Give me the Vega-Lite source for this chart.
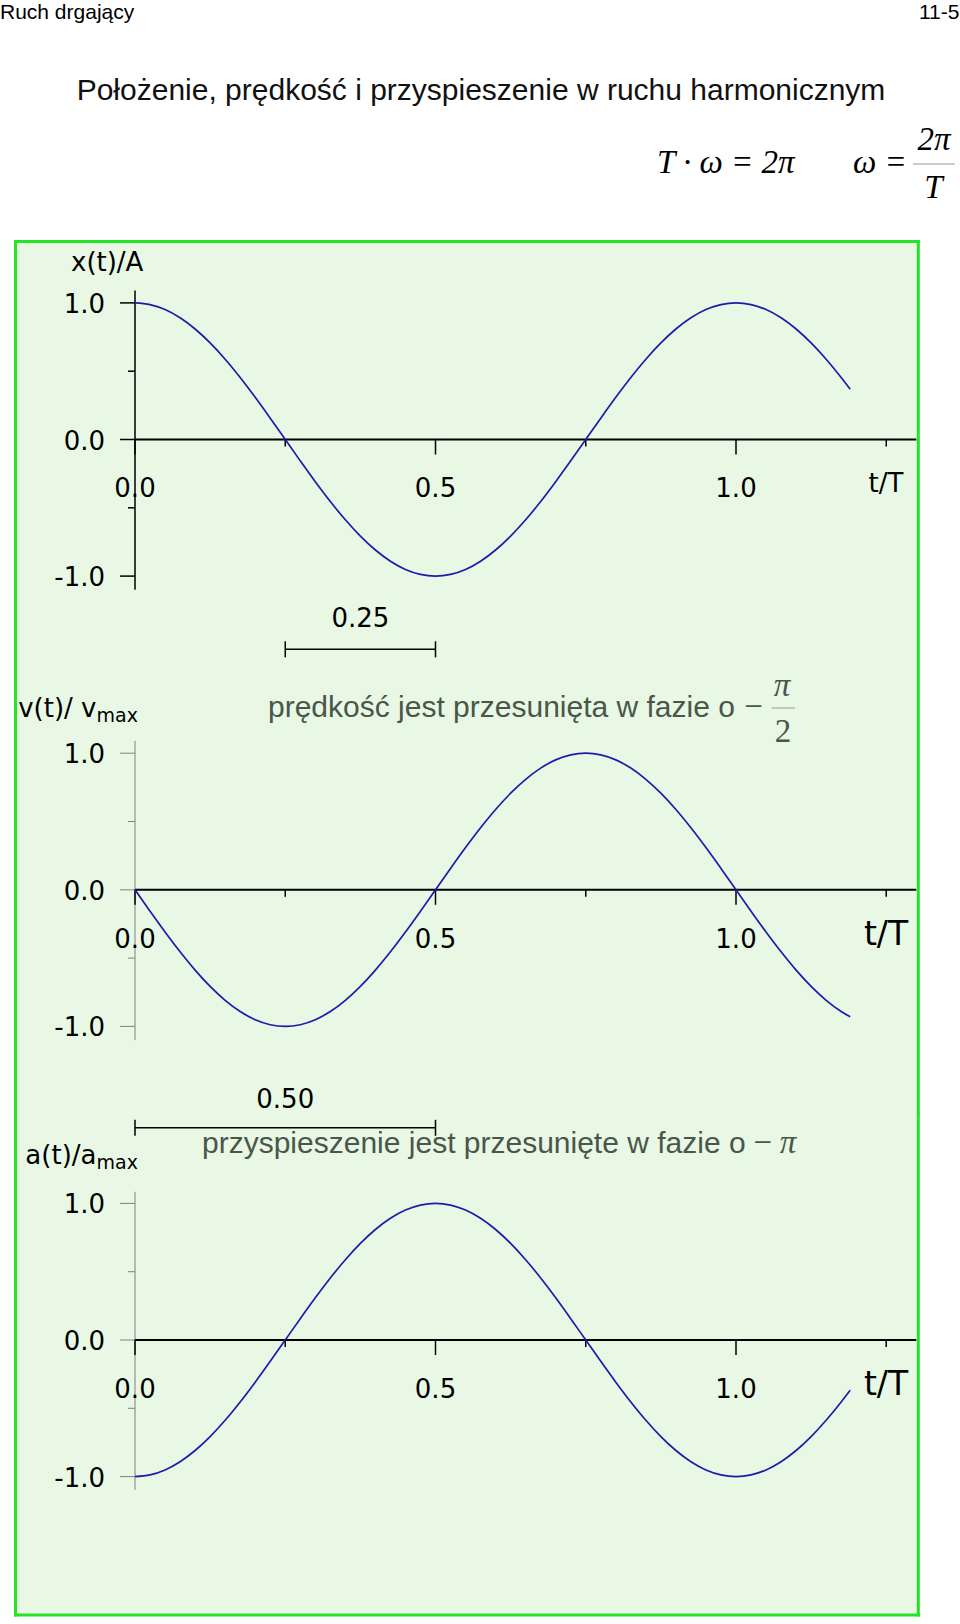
{
"$schema": "https://vega.github.io/schema/vega-lite/v6.json",
"background": "white",
"padding": 0,
"spacing": 0,
"bounds": "flush",
"config": {"view": {"stroke": null, "fill": "white"}},
"resolve": {"scale": {"x": "independent", "y": "independent"}},
"datasets": {
"one": [{}],
"ymaj": [{"v": -1}, {"v": 0}, {"v": 1}],
"ymin": [{"v": -0.5}, {"v": 0.5}],
"xmaj": [{"t": 0}, {"t": 0.5}, {"t": 1}],
"xmin": [{"t": 0.25}, {"t": 0.75}, {"t": 1.25}],
"ylab": [{"v": 1, "label": "1.0"}, {"v": 0, "label": "0.0"}, {"v": -1, "label": "-1.0"}],
"xlab": [{"t": 0, "label": "0.0"}, {"t": 0.5, "label": "0.5"}, {"t": 1, "label": "1.0"}],
"br1": [{"t": 0.25}, {"t": 0.5}],
"br2": [{"t": 0}, {"t": 0.5}],
"curve": [
{"t":0,"x":1,"v":0,"a":-1},
{"t":0.025,"x":0.9877,"v":-0.1564,"a":-0.9877},
{"t":0.05,"x":0.9511,"v":-0.309,"a":-0.9511},
{"t":0.075,"x":0.891,"v":-0.454,"a":-0.891},
{"t":0.1,"x":0.809,"v":-0.5878,"a":-0.809},
{"t":0.125,"x":0.7071,"v":-0.7071,"a":-0.7071},
{"t":0.15,"x":0.5878,"v":-0.809,"a":-0.5878},
{"t":0.175,"x":0.454,"v":-0.891,"a":-0.454},
{"t":0.2,"x":0.309,"v":-0.9511,"a":-0.309},
{"t":0.225,"x":0.1564,"v":-0.9877,"a":-0.1564},
{"t":0.25,"x":0,"v":-1,"a":0},
{"t":0.275,"x":-0.1564,"v":-0.9877,"a":0.1564},
{"t":0.3,"x":-0.309,"v":-0.9511,"a":0.309},
{"t":0.325,"x":-0.454,"v":-0.891,"a":0.454},
{"t":0.35,"x":-0.5878,"v":-0.809,"a":0.5878},
{"t":0.375,"x":-0.7071,"v":-0.7071,"a":0.7071},
{"t":0.4,"x":-0.809,"v":-0.5878,"a":0.809},
{"t":0.425,"x":-0.891,"v":-0.454,"a":0.891},
{"t":0.45,"x":-0.9511,"v":-0.309,"a":0.9511},
{"t":0.475,"x":-0.9877,"v":-0.1564,"a":0.9877},
{"t":0.5,"x":-1,"v":0,"a":1},
{"t":0.525,"x":-0.9877,"v":0.1564,"a":0.9877},
{"t":0.55,"x":-0.9511,"v":0.309,"a":0.9511},
{"t":0.575,"x":-0.891,"v":0.454,"a":0.891},
{"t":0.6,"x":-0.809,"v":0.5878,"a":0.809},
{"t":0.625,"x":-0.7071,"v":0.7071,"a":0.7071},
{"t":0.65,"x":-0.5878,"v":0.809,"a":0.5878},
{"t":0.675,"x":-0.454,"v":0.891,"a":0.454},
{"t":0.7,"x":-0.309,"v":0.9511,"a":0.309},
{"t":0.725,"x":-0.1564,"v":0.9877,"a":0.1564},
{"t":0.75,"x":0,"v":1,"a":0},
{"t":0.775,"x":0.1564,"v":0.9877,"a":-0.1564},
{"t":0.8,"x":0.309,"v":0.9511,"a":-0.309},
{"t":0.825,"x":0.454,"v":0.891,"a":-0.454},
{"t":0.85,"x":0.5878,"v":0.809,"a":-0.5878},
{"t":0.875,"x":0.7071,"v":0.7071,"a":-0.7071},
{"t":0.9,"x":0.809,"v":0.5878,"a":-0.809},
{"t":0.925,"x":0.891,"v":0.454,"a":-0.891},
{"t":0.95,"x":0.9511,"v":0.309,"a":-0.9511},
{"t":0.975,"x":0.9877,"v":0.1564,"a":-0.9877},
{"t":1,"x":1,"v":0,"a":-1},
{"t":1.025,"x":0.9877,"v":-0.1564,"a":-0.9877},
{"t":1.05,"x":0.9511,"v":-0.309,"a":-0.9511},
{"t":1.075,"x":0.891,"v":-0.454,"a":-0.891},
{"t":1.1,"x":0.809,"v":-0.5878,"a":-0.809},
{"t":1.125,"x":0.7071,"v":-0.7071,"a":-0.7071},
{"t":1.15,"x":0.5878,"v":-0.809,"a":-0.5878},
{"t":1.175,"x":0.454,"v":-0.891,"a":-0.454},
{"t":1.19,"x":0.3681,"v":-0.9298,"a":-0.3681}
]
},
"vconcat": [
{
"width": 960, "height": 664,
"layer": [
{"data": {"name": "one"}, "mark": {"type": "rect", "fill": "#e8f8e5"},
 "encoding": {"x": {"datum": -0.19884, "type": "quantitative", "scale": {"domain": [-0.22463, 1.37271], "nice": false, "zero": false}, "axis": null}, "x2": {"datum": 1.30333},
  "y": {"datum": 1.4495, "type": "quantitative", "scale": {"domain": [-1.64348, 3.21742], "nice": false, "zero": false}, "axis": null}, "y2": {"datum": -1.64348}}},
{"data": {"name": "one"}, "mark": {"type": "rule", "color": "#24e524", "strokeWidth": 3, "strokeCap": "square"},
 "encoding": {"x": {"datum": -0.19884, "type": "quantitative", "scale": {"domain": [-0.22463, 1.37271], "nice": false, "zero": false}, "axis": null}, "x2": {"datum": 1.30333},
  "y": {"datum": 1.4495, "type": "quantitative", "scale": {"domain": [-1.64348, 3.21742], "nice": false, "zero": false}, "axis": null}}},
{"data": {"name": "one"}, "mark": {"type": "rule", "color": "#24e524", "strokeWidth": 3, "strokeCap": "square"},
 "encoding": {"x": {"datum": -0.19884, "type": "quantitative", "scale": {"domain": [-0.22463, 1.37271], "nice": false, "zero": false}, "axis": null},
  "y": {"datum": 1.4495, "type": "quantitative", "scale": {"domain": [-1.64348, 3.21742], "nice": false, "zero": false}, "axis": null}, "y2": {"datum": -1.64348}}},
{"data": {"name": "one"}, "mark": {"type": "rule", "color": "#24e524", "strokeWidth": 3, "strokeCap": "square"},
 "encoding": {"x": {"datum": 1.30333, "type": "quantitative", "scale": {"domain": [-0.22463, 1.37271], "nice": false, "zero": false}, "axis": null},
  "y": {"datum": 1.4495, "type": "quantitative", "scale": {"domain": [-1.64348, 3.21742], "nice": false, "zero": false}, "axis": null}, "y2": {"datum": -1.64348}}},
{"data": {"name": "one"}, "mark": {"type": "rule", "color": "black", "strokeWidth": 1.5},
 "encoding": {"x": {"datum": 0, "type": "quantitative", "scale": {"domain": [-0.22463, 1.37271], "nice": false, "zero": false}, "axis": null},
  "y": {"datum": 1.09, "type": "quantitative", "scale": {"domain": [-1.64348, 3.21742], "nice": false, "zero": false}, "axis": null}, "y2": {"datum": -1.1}}},
{"data": {"name": "one"}, "mark": {"type": "rule", "color": "black", "strokeWidth": 2},
 "encoding": {"x": {"datum": 0, "type": "quantitative", "scale": {"domain": [-0.22463, 1.37271], "nice": false, "zero": false}, "axis": null}, "x2": {"datum": 1.3},
  "y": {"datum": 0, "type": "quantitative", "scale": {"domain": [-1.64348, 3.21742], "nice": false, "zero": false}, "axis": null}}},
{"data": {"name": "ymaj"}, "mark": {"type": "rule", "color": "black", "strokeWidth": 1.5},
 "encoding": {"x": {"datum": -0.02496, "type": "quantitative", "scale": {"domain": [-0.22463, 1.37271], "nice": false, "zero": false}, "axis": null}, "x2": {"datum": 0},
  "y": {"field": "v", "type": "quantitative", "scale": {"domain": [-1.64348, 3.21742], "nice": false, "zero": false}, "axis": null}}},
{"data": {"name": "ymin"}, "mark": {"type": "rule", "color": "black", "strokeWidth": 1.5},
 "encoding": {"x": {"datum": -0.01165, "type": "quantitative", "scale": {"domain": [-0.22463, 1.37271], "nice": false, "zero": false}, "axis": null}, "x2": {"datum": 0},
  "y": {"field": "v", "type": "quantitative", "scale": {"domain": [-1.64348, 3.21742], "nice": false, "zero": false}, "axis": null}}},
{"data": {"name": "xmaj"}, "mark": {"type": "rule", "color": "black", "strokeWidth": 1.5},
 "encoding": {"x": {"field": "t", "type": "quantitative", "scale": {"domain": [-0.22463, 1.37271], "nice": false, "zero": false}, "axis": null},
  "y": {"datum": 0, "type": "quantitative", "scale": {"domain": [-1.64348, 3.21742], "nice": false, "zero": false}, "axis": null}, "y2": {"datum": -0.1098}}},
{"data": {"name": "xmin"}, "mark": {"type": "rule", "color": "black", "strokeWidth": 1.5},
 "encoding": {"x": {"field": "t", "type": "quantitative", "scale": {"domain": [-0.22463, 1.37271], "nice": false, "zero": false}, "axis": null},
  "y": {"datum": 0, "type": "quantitative", "scale": {"domain": [-1.64348, 3.21742], "nice": false, "zero": false}, "axis": null}, "y2": {"datum": -0.0512}}},
{"data": {"name": "curve"}, "mark": {"type": "line", "color": "#1c1cac", "strokeWidth": 1.7, "interpolate": "monotone"},
 "encoding": {"x": {"field": "t", "type": "quantitative", "scale": {"domain": [-0.22463, 1.37271], "nice": false, "zero": false}, "axis": null},
  "y": {"field": "x", "type": "quantitative", "scale": {"domain": [-1.64348, 3.21742], "nice": false, "zero": false}, "axis": null}}},
{"data": {"name": "ylab"}, "mark": {"type": "text", "font": "DejaVu Sans", "fontSize": 26, "align": "right", "baseline": "middle", "dy": 2, "color": "black"},
 "encoding": {"x": {"datum": -0.04992, "type": "quantitative", "scale": {"domain": [-0.22463, 1.37271], "nice": false, "zero": false}, "axis": null},
  "y": {"field": "v", "type": "quantitative", "scale": {"domain": [-1.64348, 3.21742], "nice": false, "zero": false}, "axis": null}, "text": {"field": "label"}}},
{"data": {"name": "xlab"}, "mark": {"type": "text", "font": "DejaVu Sans", "fontSize": 26, "align": "center", "baseline": "middle", "dy": 3, "color": "black"},
 "encoding": {"x": {"field": "t", "type": "quantitative", "scale": {"domain": [-0.22463, 1.37271], "nice": false, "zero": false}, "axis": null},
  "y": {"datum": -0.344, "type": "quantitative", "scale": {"domain": [-1.64348, 3.21742], "nice": false, "zero": false}, "axis": null}, "text": {"field": "label"}}},
{"data": {"name": "one"}, "mark": {"type": "text", "text": "t/T", "font": "DejaVu Sans", "fontSize": 26, "align": "center", "baseline": "middle", "dy": 1, "color": "black"},
 "encoding": {"x": {"datum": 1.2496, "type": "quantitative", "scale": {"domain": [-0.22463, 1.37271], "nice": false, "zero": false}, "axis": null},
  "y": {"datum": -0.316, "type": "quantitative", "scale": {"domain": [-1.64348, 3.21742], "nice": false, "zero": false}, "axis": null}}},
{"data": {"name": "one"}, "mark": {"type": "text", "text": "x(t)/A", "font": "DejaVu Sans", "fontSize": 26, "align": "left", "baseline": "middle", "dy": 1, "color": "black"},
 "encoding": {"x": {"datum": -0.1065, "type": "quantitative", "scale": {"domain": [-0.22463, 1.37271], "nice": false, "zero": false}, "axis": null},
  "y": {"datum": 1.303, "type": "quantitative", "scale": {"domain": [-1.64348, 3.21742], "nice": false, "zero": false}, "axis": null}}},
{"data": {"name": "one"}, "mark": {"type": "text", "text": "0.25", "font": "DejaVu Sans", "fontSize": 26, "align": "center", "baseline": "middle", "dy": 2, "color": "black"},
 "encoding": {"x": {"datum": 0.375, "type": "quantitative", "scale": {"domain": [-0.22463, 1.37271], "nice": false, "zero": false}, "axis": null},
  "y": {"datum": -1.2994, "type": "quantitative", "scale": {"domain": [-1.64348, 3.21742], "nice": false, "zero": false}, "axis": null}}},
{"data": {"name": "one"}, "mark": {"type": "rule", "color": "black", "strokeWidth": 1.5},
 "encoding": {"x": {"datum": 0.25, "type": "quantitative", "scale": {"domain": [-0.22463, 1.37271], "nice": false, "zero": false}, "axis": null}, "x2": {"datum": 0.5},
  "y": {"datum": -1.5359, "type": "quantitative", "scale": {"domain": [-1.64348, 3.21742], "nice": false, "zero": false}, "axis": null}}},
{"data": {"name": "br1"}, "mark": {"type": "rule", "color": "black", "strokeWidth": 1.5},
 "encoding": {"x": {"field": "t", "type": "quantitative", "scale": {"domain": [-0.22463, 1.37271], "nice": false, "zero": false}, "axis": null},
  "y": {"datum": -1.4773, "type": "quantitative", "scale": {"domain": [-1.64348, 3.21742], "nice": false, "zero": false}, "axis": null}, "y2": {"datum": -1.5945}}},
{"data": {"name": "one"}, "mark": {"type": "text", "text": "Ruch drgający", "font": "Liberation Sans", "fontSize": 21, "align": "left", "baseline": "middle", "color": "black"},
 "encoding": {"x": {"datum": -0.22463, "type": "quantitative", "scale": {"domain": [-0.22463, 1.37271], "nice": false, "zero": false}, "axis": null},
  "y": {"datum": 3.125, "type": "quantitative", "scale": {"domain": [-1.64348, 3.21742], "nice": false, "zero": false}, "axis": null}}},
{"data": {"name": "one"}, "mark": {"type": "text", "text": "11-5", "font": "Liberation Sans", "fontSize": 21, "align": "right", "baseline": "middle", "color": "black"},
 "encoding": {"x": {"datum": 1.3718, "type": "quantitative", "scale": {"domain": [-0.22463, 1.37271], "nice": false, "zero": false}, "axis": null},
  "y": {"datum": 3.125, "type": "quantitative", "scale": {"domain": [-1.64348, 3.21742], "nice": false, "zero": false}, "axis": null}}},
{"data": {"name": "one"}, "mark": {"type": "text", "text": "Położenie, prędkość i przyspieszenie w ruchu harmonicznym", "font": "Liberation Sans", "fontSize": 30, "align": "center", "baseline": "middle", "dy": 1, "color": "#111111"},
 "encoding": {"x": {"datum": 0.5757, "type": "quantitative", "scale": {"domain": [-0.22463, 1.37271], "nice": false, "zero": false}, "axis": null},
  "y": {"datum": 2.5586, "type": "quantitative", "scale": {"domain": [-1.64348, 3.21742], "nice": false, "zero": false}, "axis": null}}},
{"data": {"name": "one"}, "mark": {"type": "text", "text": "T · ω = 2π", "font": "Liberation Serif", "fontStyle": "italic", "fontSize": 33, "align": "left", "baseline": "middle", "color": "black"},
 "encoding": {"x": {"datum": 0.8685, "type": "quantitative", "scale": {"domain": [-0.22463, 1.37271], "nice": false, "zero": false}, "axis": null},
  "y": {"datum": 2.022, "type": "quantitative", "scale": {"domain": [-1.64348, 3.21742], "nice": false, "zero": false}, "axis": null}}},
{"data": {"name": "one"}, "mark": {"type": "text", "text": "ω =", "font": "Liberation Serif", "fontStyle": "italic", "fontSize": 33, "align": "left", "baseline": "middle", "color": "black"},
 "encoding": {"x": {"datum": 1.1947, "type": "quantitative", "scale": {"domain": [-0.22463, 1.37271], "nice": false, "zero": false}, "axis": null},
  "y": {"datum": 2.022, "type": "quantitative", "scale": {"domain": [-1.64348, 3.21742], "nice": false, "zero": false}, "axis": null}}},
{"data": {"name": "one"}, "mark": {"type": "text", "text": "2π", "font": "Liberation Serif", "fontStyle": "italic", "fontSize": 33, "align": "center", "baseline": "middle", "color": "black"},
 "encoding": {"x": {"datum": 1.3295, "type": "quantitative", "scale": {"domain": [-0.22463, 1.37271], "nice": false, "zero": false}, "axis": null},
  "y": {"datum": 2.1925, "type": "quantitative", "scale": {"domain": [-1.64348, 3.21742], "nice": false, "zero": false}, "axis": null}}},
{"data": {"name": "one"}, "mark": {"type": "rule", "color": "#999999", "strokeWidth": 1},
 "encoding": {"x": {"datum": 1.2945, "type": "quantitative", "scale": {"domain": [-0.22463, 1.37271], "nice": false, "zero": false}, "axis": null}, "x2": {"datum": 1.3644},
  "y": {"datum": 2.0168, "type": "quantitative", "scale": {"domain": [-1.64348, 3.21742], "nice": false, "zero": false}, "axis": null}}},
{"data": {"name": "one"}, "mark": {"type": "text", "text": "T", "font": "Liberation Serif", "fontStyle": "italic", "fontSize": 33, "align": "center", "baseline": "middle", "color": "black"},
 "encoding": {"x": {"datum": 1.3283, "type": "quantitative", "scale": {"domain": [-0.22463, 1.37271], "nice": false, "zero": false}, "axis": null},
  "y": {"datum": 1.8411, "type": "quantitative", "scale": {"domain": [-1.64348, 3.21742], "nice": false, "zero": false}, "axis": null}}}
]
},
{
"width": 960, "height": 450,
"layer": [
{"data": {"name": "one"}, "mark": {"type": "rect", "fill": "#e8f8e5"},
 "encoding": {"x": {"datum": -0.19884, "type": "quantitative", "scale": {"domain": [-0.22463, 1.37271], "nice": false, "zero": false}, "axis": null}, "x2": {"datum": 1.30333},
  "y": {"datum": 1.653, "type": "quantitative", "scale": {"domain": [-1.64129, 1.653], "nice": false, "zero": false}, "axis": null}, "y2": {"datum": -1.64129}}},
{"data": {"name": "one"}, "mark": {"type": "rule", "color": "#24e524", "strokeWidth": 3},
 "encoding": {"x": {"datum": -0.19884, "type": "quantitative", "scale": {"domain": [-0.22463, 1.37271], "nice": false, "zero": false}, "axis": null},
  "y": {"datum": 1.653, "type": "quantitative", "scale": {"domain": [-1.64129, 1.653], "nice": false, "zero": false}, "axis": null}, "y2": {"datum": -1.64129}}},
{"data": {"name": "one"}, "mark": {"type": "rule", "color": "#24e524", "strokeWidth": 3},
 "encoding": {"x": {"datum": 1.30333, "type": "quantitative", "scale": {"domain": [-0.22463, 1.37271], "nice": false, "zero": false}, "axis": null},
  "y": {"datum": 1.653, "type": "quantitative", "scale": {"domain": [-1.64129, 1.653], "nice": false, "zero": false}, "axis": null}, "y2": {"datum": -1.64129}}},
{"data": {"name": "one"}, "mark": {"type": "rule", "color": "#808080", "strokeWidth": 1},
 "encoding": {"x": {"datum": 0, "type": "quantitative", "scale": {"domain": [-0.22463, 1.37271], "nice": false, "zero": false}, "axis": null},
  "y": {"datum": 1.09, "type": "quantitative", "scale": {"domain": [-1.64129, 1.653], "nice": false, "zero": false}, "axis": null}, "y2": {"datum": -1.1}}},
{"data": {"name": "one"}, "mark": {"type": "rule", "color": "black", "strokeWidth": 2},
 "encoding": {"x": {"datum": 0, "type": "quantitative", "scale": {"domain": [-0.22463, 1.37271], "nice": false, "zero": false}, "axis": null}, "x2": {"datum": 1.3},
  "y": {"datum": 0, "type": "quantitative", "scale": {"domain": [-1.64129, 1.653], "nice": false, "zero": false}, "axis": null}}},
{"data": {"name": "ymaj"}, "mark": {"type": "rule", "color": "#808080", "strokeWidth": 1},
 "encoding": {"x": {"datum": -0.02496, "type": "quantitative", "scale": {"domain": [-0.22463, 1.37271], "nice": false, "zero": false}, "axis": null}, "x2": {"datum": 0},
  "y": {"field": "v", "type": "quantitative", "scale": {"domain": [-1.64129, 1.653], "nice": false, "zero": false}, "axis": null}}},
{"data": {"name": "ymin"}, "mark": {"type": "rule", "color": "#808080", "strokeWidth": 1},
 "encoding": {"x": {"datum": -0.01165, "type": "quantitative", "scale": {"domain": [-0.22463, 1.37271], "nice": false, "zero": false}, "axis": null}, "x2": {"datum": 0},
  "y": {"field": "v", "type": "quantitative", "scale": {"domain": [-1.64129, 1.653], "nice": false, "zero": false}, "axis": null}}},
{"data": {"name": "xmaj"}, "mark": {"type": "rule", "color": "black", "strokeWidth": 1.5},
 "encoding": {"x": {"field": "t", "type": "quantitative", "scale": {"domain": [-0.22463, 1.37271], "nice": false, "zero": false}, "axis": null},
  "y": {"datum": 0, "type": "quantitative", "scale": {"domain": [-1.64129, 1.653], "nice": false, "zero": false}, "axis": null}, "y2": {"datum": -0.1098}}},
{"data": {"name": "xmin"}, "mark": {"type": "rule", "color": "black", "strokeWidth": 1.5},
 "encoding": {"x": {"field": "t", "type": "quantitative", "scale": {"domain": [-0.22463, 1.37271], "nice": false, "zero": false}, "axis": null},
  "y": {"datum": 0, "type": "quantitative", "scale": {"domain": [-1.64129, 1.653], "nice": false, "zero": false}, "axis": null}, "y2": {"datum": -0.0512}}},
{"data": {"name": "curve"}, "mark": {"type": "line", "color": "#1c1cac", "strokeWidth": 1.7, "interpolate": "monotone"},
 "encoding": {"x": {"field": "t", "type": "quantitative", "scale": {"domain": [-0.22463, 1.37271], "nice": false, "zero": false}, "axis": null},
  "y": {"field": "v", "type": "quantitative", "scale": {"domain": [-1.64129, 1.653], "nice": false, "zero": false}, "axis": null}}},
{"data": {"name": "ylab"}, "mark": {"type": "text", "font": "DejaVu Sans", "fontSize": 26, "align": "right", "baseline": "middle", "dy": 2, "color": "black"},
 "encoding": {"x": {"datum": -0.04992, "type": "quantitative", "scale": {"domain": [-0.22463, 1.37271], "nice": false, "zero": false}, "axis": null},
  "y": {"field": "v", "type": "quantitative", "scale": {"domain": [-1.64129, 1.653], "nice": false, "zero": false}, "axis": null}, "text": {"field": "label"}}},
{"data": {"name": "xlab"}, "mark": {"type": "text", "font": "DejaVu Sans", "fontSize": 26, "align": "center", "baseline": "middle", "dy": 3, "color": "black"},
 "encoding": {"x": {"field": "t", "type": "quantitative", "scale": {"domain": [-0.22463, 1.37271], "nice": false, "zero": false}, "axis": null},
  "y": {"datum": -0.344, "type": "quantitative", "scale": {"domain": [-1.64129, 1.653], "nice": false, "zero": false}, "axis": null}, "text": {"field": "label"}}},
{"data": {"name": "one"}, "mark": {"type": "text", "text": "t/T", "font": "DejaVu Sans", "fontSize": 33, "align": "center", "baseline": "middle", "dy": 1, "color": "black"},
 "encoding": {"x": {"datum": 1.2496, "type": "quantitative", "scale": {"domain": [-0.22463, 1.37271], "nice": false, "zero": false}, "axis": null},
  "y": {"datum": -0.32, "type": "quantitative", "scale": {"domain": [-1.64129, 1.653], "nice": false, "zero": false}, "axis": null}}},
{"data": {"name": "one"}, "mark": {"type": "text", "text": "v(t)/ v", "font": "DejaVu Sans", "fontSize": 26, "align": "right", "baseline": "middle", "dy": 1, "color": "black"},
 "encoding": {"x": {"datum": -0.0641, "type": "quantitative", "scale": {"domain": [-0.22463, 1.37271], "nice": false, "zero": false}, "axis": null},
  "y": {"datum": 1.331, "type": "quantitative", "scale": {"domain": [-1.64129, 1.653], "nice": false, "zero": false}, "axis": null}}},
{"data": {"name": "one"}, "mark": {"type": "text", "text": "max", "font": "DejaVu Sans", "fontSize": 19, "align": "left", "baseline": "middle", "dy": 8, "color": "black"},
 "encoding": {"x": {"datum": -0.0641, "type": "quantitative", "scale": {"domain": [-0.22463, 1.37271], "nice": false, "zero": false}, "axis": null},
  "y": {"datum": 1.331, "type": "quantitative", "scale": {"domain": [-1.64129, 1.653], "nice": false, "zero": false}, "axis": null}}},
{"data": {"name": "one"}, "mark": {"type": "text", "text": "prędkość jest przesunięta w fazie o", "font": "Liberation Sans", "fontSize": 30, "align": "left", "baseline": "middle", "dy": 1, "color": "#4a564a"},
 "encoding": {"x": {"datum": 0.2213, "type": "quantitative", "scale": {"domain": [-0.22463, 1.37271], "nice": false, "zero": false}, "axis": null},
  "y": {"datum": 1.3382, "type": "quantitative", "scale": {"domain": [-1.64129, 1.653], "nice": false, "zero": false}, "axis": null}}},
{"data": {"name": "one"}, "mark": {"type": "text", "text": "−", "font": "Liberation Serif", "fontSize": 33, "align": "center", "baseline": "middle", "color": "#4a564a"},
 "encoding": {"x": {"datum": 1.0291, "type": "quantitative", "scale": {"domain": [-0.22463, 1.37271], "nice": false, "zero": false}, "axis": null},
  "y": {"datum": 1.338, "type": "quantitative", "scale": {"domain": [-1.64129, 1.653], "nice": false, "zero": false}, "axis": null}}},
{"data": {"name": "one"}, "mark": {"type": "text", "text": "π", "font": "Liberation Serif", "fontStyle": "italic", "fontSize": 33, "align": "center", "baseline": "middle", "color": "#4a564a"},
 "encoding": {"x": {"datum": 1.0765, "type": "quantitative", "scale": {"domain": [-0.22463, 1.37271], "nice": false, "zero": false}, "axis": null},
  "y": {"datum": 1.4956, "type": "quantitative", "scale": {"domain": [-1.64129, 1.653], "nice": false, "zero": false}, "axis": null}}},
{"data": {"name": "one"}, "mark": {"type": "rule", "color": "#999999", "strokeWidth": 1},
 "encoding": {"x": {"datum": 1.0591, "type": "quantitative", "scale": {"domain": [-0.22463, 1.37271], "nice": false, "zero": false}, "axis": null}, "x2": {"datum": 1.0982},
  "y": {"datum": 1.3309, "type": "quantitative", "scale": {"domain": [-1.64129, 1.653], "nice": false, "zero": false}, "axis": null}}},
{"data": {"name": "one"}, "mark": {"type": "text", "text": "2", "font": "Liberation Serif", "fontSize": 33, "align": "center", "baseline": "middle", "color": "#4a564a"},
 "encoding": {"x": {"datum": 1.0782, "type": "quantitative", "scale": {"domain": [-0.22463, 1.37271], "nice": false, "zero": false}, "axis": null},
  "y": {"datum": 1.1552, "type": "quantitative", "scale": {"domain": [-1.64129, 1.653], "nice": false, "zero": false}, "axis": null}}},
{"data": {"name": "one"}, "mark": {"type": "text", "text": "0.50", "font": "DejaVu Sans", "fontSize": 26, "align": "center", "baseline": "middle", "dy": 2, "color": "black"},
 "encoding": {"x": {"datum": 0.25, "type": "quantitative", "scale": {"domain": [-0.22463, 1.37271], "nice": false, "zero": false}, "axis": null},
  "y": {"datum": -1.522, "type": "quantitative", "scale": {"domain": [-1.64129, 1.653], "nice": false, "zero": false}, "axis": null}}}
]
},
{
"width": 960, "height": 501,
"layer": [
{"data": {"name": "one"}, "mark": {"type": "rect", "fill": "#e8f8e5"},
 "encoding": {"x": {"datum": -0.19884, "type": "quantitative", "scale": {"domain": [-0.22463, 1.37271], "nice": false, "zero": false}, "axis": null}, "x2": {"datum": 1.30333},
  "y": {"datum": 1.65447, "type": "quantitative", "scale": {"domain": [-2.01318, 1.65447], "nice": false, "zero": false}, "axis": null}, "y2": {"datum": -2.01318}}},
{"data": {"name": "one"}, "mark": {"type": "rule", "color": "#24e524", "strokeWidth": 3, "strokeCap": "square"},
 "encoding": {"x": {"datum": -0.19884, "type": "quantitative", "scale": {"domain": [-0.22463, 1.37271], "nice": false, "zero": false}, "axis": null},
  "y": {"datum": 1.65447, "type": "quantitative", "scale": {"domain": [-2.01318, 1.65447], "nice": false, "zero": false}, "axis": null}, "y2": {"datum": -2.01318}}},
{"data": {"name": "one"}, "mark": {"type": "rule", "color": "#24e524", "strokeWidth": 3, "strokeCap": "square"},
 "encoding": {"x": {"datum": 1.30333, "type": "quantitative", "scale": {"domain": [-0.22463, 1.37271], "nice": false, "zero": false}, "axis": null},
  "y": {"datum": 1.65447, "type": "quantitative", "scale": {"domain": [-2.01318, 1.65447], "nice": false, "zero": false}, "axis": null}, "y2": {"datum": -2.01318}}},
{"data": {"name": "one"}, "mark": {"type": "rule", "color": "#24e524", "strokeWidth": 3, "strokeCap": "square"},
 "encoding": {"x": {"datum": -0.19884, "type": "quantitative", "scale": {"domain": [-0.22463, 1.37271], "nice": false, "zero": false}, "axis": null}, "x2": {"datum": 1.30333},
  "y": {"datum": -2.01318, "type": "quantitative", "scale": {"domain": [-2.01318, 1.65447], "nice": false, "zero": false}, "axis": null}}},
{"data": {"name": "one"}, "mark": {"type": "rule", "color": "#808080", "strokeWidth": 1},
 "encoding": {"x": {"datum": 0, "type": "quantitative", "scale": {"domain": [-0.22463, 1.37271], "nice": false, "zero": false}, "axis": null},
  "y": {"datum": 1.085, "type": "quantitative", "scale": {"domain": [-2.01318, 1.65447], "nice": false, "zero": false}, "axis": null}, "y2": {"datum": -1.097}}},
{"data": {"name": "one"}, "mark": {"type": "rule", "color": "black", "strokeWidth": 2},
 "encoding": {"x": {"datum": 0, "type": "quantitative", "scale": {"domain": [-0.22463, 1.37271], "nice": false, "zero": false}, "axis": null}, "x2": {"datum": 1.3},
  "y": {"datum": 0, "type": "quantitative", "scale": {"domain": [-2.01318, 1.65447], "nice": false, "zero": false}, "axis": null}}},
{"data": {"name": "ymaj"}, "mark": {"type": "rule", "color": "#808080", "strokeWidth": 1},
 "encoding": {"x": {"datum": -0.02496, "type": "quantitative", "scale": {"domain": [-0.22463, 1.37271], "nice": false, "zero": false}, "axis": null}, "x2": {"datum": 0},
  "y": {"field": "v", "type": "quantitative", "scale": {"domain": [-2.01318, 1.65447], "nice": false, "zero": false}, "axis": null}}},
{"data": {"name": "ymin"}, "mark": {"type": "rule", "color": "#808080", "strokeWidth": 1},
 "encoding": {"x": {"datum": -0.01165, "type": "quantitative", "scale": {"domain": [-0.22463, 1.37271], "nice": false, "zero": false}, "axis": null}, "x2": {"datum": 0},
  "y": {"field": "v", "type": "quantitative", "scale": {"domain": [-2.01318, 1.65447], "nice": false, "zero": false}, "axis": null}}},
{"data": {"name": "xmaj"}, "mark": {"type": "rule", "color": "black", "strokeWidth": 1.5},
 "encoding": {"x": {"field": "t", "type": "quantitative", "scale": {"domain": [-0.22463, 1.37271], "nice": false, "zero": false}, "axis": null},
  "y": {"datum": 0, "type": "quantitative", "scale": {"domain": [-2.01318, 1.65447], "nice": false, "zero": false}, "axis": null}, "y2": {"datum": -0.1098}}},
{"data": {"name": "xmin"}, "mark": {"type": "rule", "color": "black", "strokeWidth": 1.5},
 "encoding": {"x": {"field": "t", "type": "quantitative", "scale": {"domain": [-0.22463, 1.37271], "nice": false, "zero": false}, "axis": null},
  "y": {"datum": 0, "type": "quantitative", "scale": {"domain": [-2.01318, 1.65447], "nice": false, "zero": false}, "axis": null}, "y2": {"datum": -0.0512}}},
{"data": {"name": "curve"}, "mark": {"type": "line", "color": "#1c1cac", "strokeWidth": 1.7, "interpolate": "monotone"},
 "encoding": {"x": {"field": "t", "type": "quantitative", "scale": {"domain": [-0.22463, 1.37271], "nice": false, "zero": false}, "axis": null},
  "y": {"field": "a", "type": "quantitative", "scale": {"domain": [-2.01318, 1.65447], "nice": false, "zero": false}, "axis": null}}},
{"data": {"name": "ylab"}, "mark": {"type": "text", "font": "DejaVu Sans", "fontSize": 26, "align": "right", "baseline": "middle", "dy": 2, "color": "black"},
 "encoding": {"x": {"datum": -0.04992, "type": "quantitative", "scale": {"domain": [-0.22463, 1.37271], "nice": false, "zero": false}, "axis": null},
  "y": {"field": "v", "type": "quantitative", "scale": {"domain": [-2.01318, 1.65447], "nice": false, "zero": false}, "axis": null}, "text": {"field": "label"}}},
{"data": {"name": "xlab"}, "mark": {"type": "text", "font": "DejaVu Sans", "fontSize": 26, "align": "center", "baseline": "middle", "dy": 3, "color": "black"},
 "encoding": {"x": {"field": "t", "type": "quantitative", "scale": {"domain": [-0.22463, 1.37271], "nice": false, "zero": false}, "axis": null},
  "y": {"datum": -0.344, "type": "quantitative", "scale": {"domain": [-2.01318, 1.65447], "nice": false, "zero": false}, "axis": null}, "text": {"field": "label"}}},
{"data": {"name": "one"}, "mark": {"type": "text", "text": "t/T", "font": "DejaVu Sans", "fontSize": 33, "align": "center", "baseline": "middle", "dy": 1, "color": "black"},
 "encoding": {"x": {"datum": 1.2496, "type": "quantitative", "scale": {"domain": [-0.22463, 1.37271], "nice": false, "zero": false}, "axis": null},
  "y": {"datum": -0.32, "type": "quantitative", "scale": {"domain": [-2.01318, 1.65447], "nice": false, "zero": false}, "axis": null}}},
{"data": {"name": "one"}, "mark": {"type": "text", "text": "a(t)/a", "font": "DejaVu Sans", "fontSize": 26, "align": "right", "baseline": "middle", "dy": 1, "color": "black"},
 "encoding": {"x": {"datum": -0.0641, "type": "quantitative", "scale": {"domain": [-0.22463, 1.37271], "nice": false, "zero": false}, "axis": null},
  "y": {"datum": 1.3565, "type": "quantitative", "scale": {"domain": [-2.01318, 1.65447], "nice": false, "zero": false}, "axis": null}}},
{"data": {"name": "one"}, "mark": {"type": "text", "text": "max", "font": "DejaVu Sans", "fontSize": 19, "align": "left", "baseline": "middle", "dy": 8, "color": "black"},
 "encoding": {"x": {"datum": -0.0641, "type": "quantitative", "scale": {"domain": [-0.22463, 1.37271], "nice": false, "zero": false}, "axis": null},
  "y": {"datum": 1.3565, "type": "quantitative", "scale": {"domain": [-2.01318, 1.65447], "nice": false, "zero": false}, "axis": null}}},
{"data": {"name": "one"}, "mark": {"type": "rule", "color": "black", "strokeWidth": 1.5},
 "encoding": {"x": {"datum": 0, "type": "quantitative", "scale": {"domain": [-0.22463, 1.37271], "nice": false, "zero": false}, "axis": null}, "x2": {"datum": 0.5},
  "y": {"datum": 1.5534, "type": "quantitative", "scale": {"domain": [-2.01318, 1.65447], "nice": false, "zero": false}, "axis": null}}},
{"data": {"name": "br2"}, "mark": {"type": "rule", "color": "black", "strokeWidth": 1.5},
 "encoding": {"x": {"field": "t", "type": "quantitative", "scale": {"domain": [-0.22463, 1.37271], "nice": false, "zero": false}, "axis": null},
  "y": {"datum": 1.612, "type": "quantitative", "scale": {"domain": [-2.01318, 1.65447], "nice": false, "zero": false}, "axis": null}, "y2": {"datum": 1.4948}}},
{"data": {"name": "one"}, "mark": {"type": "text", "text": "przyspieszenie jest przesunięte w fazie o", "font": "Liberation Sans", "fontSize": 30, "align": "left", "baseline": "middle", "dy": 1, "color": "#4a564a"},
 "encoding": {"x": {"datum": 0.1115, "type": "quantitative", "scale": {"domain": [-0.22463, 1.37271], "nice": false, "zero": false}, "axis": null},
  "y": {"datum": 1.44, "type": "quantitative", "scale": {"domain": [-2.01318, 1.65447], "nice": false, "zero": false}, "axis": null}}},
{"data": {"name": "one"}, "mark": {"type": "text", "text": "−", "font": "Liberation Serif", "fontSize": 33, "align": "center", "baseline": "middle", "color": "#4a564a"},
 "encoding": {"x": {"datum": 1.0445, "type": "quantitative", "scale": {"domain": [-0.22463, 1.37271], "nice": false, "zero": false}, "axis": null},
  "y": {"datum": 1.44, "type": "quantitative", "scale": {"domain": [-2.01318, 1.65447], "nice": false, "zero": false}, "axis": null}}},
{"data": {"name": "one"}, "mark": {"type": "text", "text": "π", "font": "Liberation Serif", "fontStyle": "italic", "fontSize": 33, "align": "center", "baseline": "middle", "color": "#4a564a"},
 "encoding": {"x": {"datum": 1.0865, "type": "quantitative", "scale": {"domain": [-0.22463, 1.37271], "nice": false, "zero": false}, "axis": null},
  "y": {"datum": 1.44, "type": "quantitative", "scale": {"domain": [-2.01318, 1.65447], "nice": false, "zero": false}, "axis": null}}}
]
}
]
}
